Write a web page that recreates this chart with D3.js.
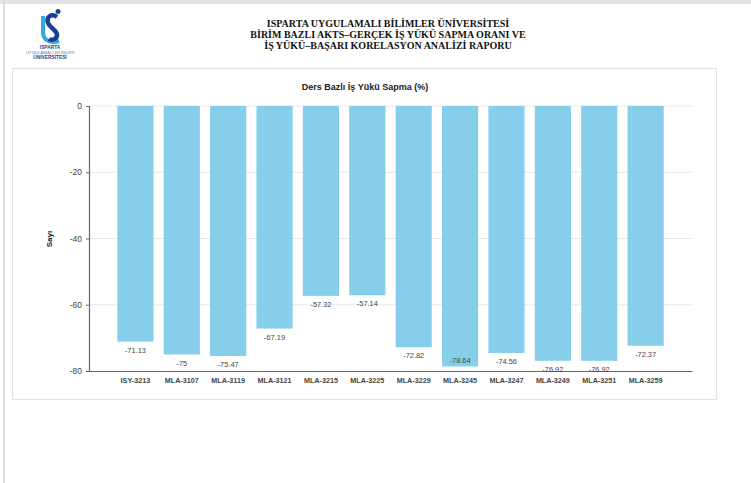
<!DOCTYPE html>
<html>
<head>
<meta charset="utf-8">
<script src="https://cdn.jsdelivr.net/npm/d3@7"></script>
<style>
  html, body { margin: 0; padding: 0; background: #fff; }
  svg { display: block; }
</style>
</head>
<body>
<svg id="chart" width="751" height="483"></svg>
<script>
const courses = ['ISY-3213', 'MLA-3107', 'MLA-3119', 'MLA-3121', 'MLA-3215', 'MLA-3225',
  'MLA-3229', 'MLA-3245', 'MLA-3247', 'MLA-3249', 'MLA-3251', 'MLA-3259'];
const deviation = [-71.13, -75, -75.47, -67.19, -57.32, -57.14,
  -72.82, -78.64, -74.56, -76.92, -76.92, -72.37];
const yTicks = [0, -20, -40, -60, -80];
const headerLines = [
  'ISPARTA UYGULAMALI BİLİMLER ÜNİVERSİTESİ',
  'BİRİM BAZLI AKTS–GERÇEK İŞ YÜKÜ SAPMA ORANI VE',
  'İŞ YÜKÜ–BAŞARI KORELASYON ANALİZİ RAPORU',
];
const logoLines = ['ISPARTA', 'UYGULAMALI BİLİMLER', 'ÜNİVERSİTESİ'];

const svg = d3.select('#chart');
const SANS = 'Liberation Sans, Arial, sans-serif';

// page frame
svg.append('rect').attr('x', 0).attr('y', 0).attr('width', 751).attr('height', 4).attr('fill', '#e4e4e8');
svg.append('rect').attr('x', 3).attr('y', 0).attr('width', 2).attr('height', 483).attr('fill', '#dcdce2');

// logo
const logo = svg.append('g').attr('transform', 'translate(50,27)');
logo.append('path')
  .attr('d', 'M-7,-11 L-7,5 C-7,13 0,17 9,14')
  .attr('fill', 'none').attr('stroke', '#35a8dc').attr('stroke-width', 4);
logo.append('path')
  .attr('d', 'M7,-10 C1,-14 -4,-10 -2,-4 C0,1 7,3 7,8 C7,12 2,14 -1,12')
  .attr('fill', 'none').attr('stroke', '#1c3f94').attr('stroke-width', 4.5);
logo.append('circle').attr('cx', 8).attr('cy', -15.5).attr('r', 2.5).attr('fill', '#1c3f94');
logo.selectAll('text.logo')
  .data(logoLines)
  .join('text')
  .attr('class', 'logo')
  .attr('x', 0)
  .attr('y', (d, i) => 22 + i * 4.8)
  .attr('text-anchor', 'middle')
  .attr('font-family', SANS)
  .attr('font-size', (d, i) => i === 1 ? 4.3 : 4.8)
  .attr('font-weight', (d, i) => i === 1 ? 'normal' : 'bold')
  .attr('fill', (d, i) => i === 1 ? '#6d7fb0' : '#1c3f94')
  .text((d) => d);

// header
svg.selectAll('text.header')
  .data(headerLines)
  .join('text')
  .attr('class', 'header')
  .attr('x', 388)
  .attr('y', (d, i) => 26.5 + i * 11.2)
  .attr('text-anchor', 'middle')
  .attr('font-family', 'Liberation Serif, Times New Roman, serif')
  .attr('font-weight', 'bold')
  .attr('font-size', 10)
  .attr('fill', '#111')
  .text((d) => d);

// chart card
svg.append('rect')
  .attr('x', 12.5).attr('y', 68.5).attr('width', 704).attr('height', 331)
  .attr('fill', '#fff').attr('stroke', '#e2e2e2').attr('stroke-width', 1.2);

const plot = {left: 89, right: 692, top: 106, bottom: 371};

const x = d3.scaleBand()
  .domain(courses)
  .range([plot.left, plot.right])
  .paddingInner(0.22)
  .paddingOuter(0.61);

const y = d3.scaleLinear()
  .domain([-80, 0])
  .range([plot.bottom, plot.top]);

// grid
svg.append('g')
  .selectAll('line')
  .data(yTicks.filter((t) => t !== -80))
  .join('line')
  .attr('x1', plot.left).attr('x2', plot.right)
  .attr('y1', (d) => y(d)).attr('y2', (d) => y(d))
  .attr('stroke', '#e8e8e8').attr('stroke-width', 1);

// bars
svg.append('g')
  .selectAll('rect')
  .data(deviation)
  .join('rect')
  .attr('x', (d, i) => x(courses[i]))
  .attr('y', y(0))
  .attr('width', x.bandwidth())
  .attr('height', (d) => y(d) - y(0))
  .attr('fill', '#87ceeb');

// y axis
const yAxis = svg.append('g')
  .attr('transform', `translate(${plot.left},0)`)
  .call(d3.axisLeft(y).tickValues(yTicks).tickSize(3).tickPadding(4).tickFormat((d) => String(d)));
yAxis.select('.domain').attr('stroke', '#666').attr('stroke-width', 1.2);
yAxis.selectAll('.tick line').attr('stroke', '#666');
yAxis.selectAll('.tick text')
  .attr('font-family', SANS)
  .attr('font-size', 8.5)
  .attr('fill', '#444');

// x axis
const xAxis = svg.append('g')
  .attr('transform', `translate(0,${plot.bottom})`)
  .call(d3.axisBottom(x).tickSize(0).tickPadding(7));
xAxis.select('.domain').attr('stroke', '#666').attr('stroke-width', 1.2);
xAxis.selectAll('.tick text')
  .attr('font-family', SANS)
  .attr('font-size', 7.2)
  .attr('font-weight', 'bold')
  .attr('fill', '#444');

// value labels: below the bar end, flipped inside when it would leave the plot
const labelY = (d) => {
  const below = y(d) + 8.5;
  return below + 4 > plot.bottom + 3 ? y(d) - 6.5 : below;
};
svg.append('g')
  .selectAll('text')
  .data(deviation)
  .join('text')
  .attr('x', (d, i) => x(courses[i]) + x.bandwidth() / 2)
  .attr('y', (d) => labelY(d) + 2.6)
  .attr('text-anchor', 'middle')
  .attr('font-family', SANS)
  .attr('font-size', 7.4)
  .attr('fill', '#444')
  .text((d) => d);

// titles
svg.append('text')
  .attr('x', 365).attr('y', 89.5)
  .attr('text-anchor', 'middle')
  .attr('font-family', SANS)
  .attr('font-size', 9)
  .attr('font-weight', 'bold')
  .attr('fill', '#222')
  .text('Ders Bazlı İş Yükü Sapma (%)');

svg.append('text')
  .attr('transform', 'translate(52,239) rotate(-90)')
  .attr('text-anchor', 'middle')
  .attr('font-family', SANS)
  .attr('font-size', 8)
  .attr('font-weight', 'bold')
  .attr('fill', '#222')
  .text('Sayı');
</script>
</body>
</html>
